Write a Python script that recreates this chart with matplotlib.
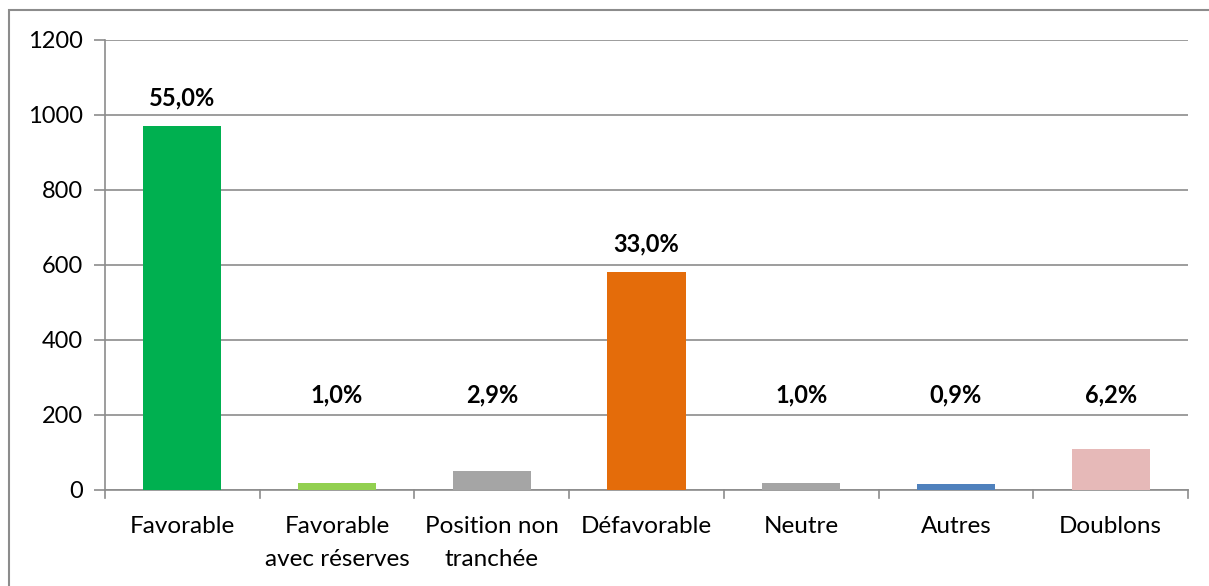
import matplotlib.pyplot as plt
from matplotlib.patches import Rectangle

# Avis exprimés
categories = ["Favorable", "Favorable\navec réserves", "Position non\ntranchée",
              "Défavorable", "Neutre", "Autres", "Doublons"]
valeurs = [970, 18, 51, 582, 18, 16, 110]
couleurs = ["#00B050", "#92D050", "#A5A5A5", "#E46C0A", "#A5A5A5", "#4F81BD", "#E6B9B8"]

total = sum(valeurs)
pourcentages = [v / total * 100 for v in valeurs]

plt.rcParams["font.family"] = ["Lato", "DejaVu Sans"]

fig = plt.figure(figsize=(12.09, 5.86), dpi=100)
ax = fig.add_axes([105 / 1209, 96 / 586, 1083 / 1209, 450.5 / 586])

x = range(len(categories))
ax.bar(x, valeurs, width=0.505, color=couleurs, zorder=3)

# etiquettes en pourcentage (les petites barres ont leur etiquette remontee)
for i, (v, p) in enumerate(zip(valeurs, pourcentages)):
    base = max(v, 180)
    txt = f"{p:.1f}%".replace(".", ",")
    ax.annotate(txt, (i, base), xytext=(0, 20), textcoords="offset points",
                ha="center", va="center", fontsize=17, fontweight="bold", color="black")

ax.set_xlim(-0.5, len(categories) - 0.5)
ax.set_ylim(0, 1200)
ax.set_yticks(range(0, 1201, 200))
ax.yaxis.grid(True, color="#8C8C8C", linewidth=1.2, zorder=0)
ax.set_axisbelow(True)

ax.set_xticks(x)
ax.set_xticklabels(categories, fontsize=17.5, linespacing=1.7)
ax.tick_params(axis="x", length=0, pad=19)
ax.tick_params(axis="y", length=8, width=1.2, color="#8C8C8C", labelsize=17, pad=8)

# petits traits entre les categories
for b in [i - 0.5 for i in range(len(categories) + 1)]:
    ax.plot([b, b], [0, -1200 * 8 / 450.5], color="#8C8C8C", linewidth=1.2,
            clip_on=False, zorder=4)

for s in ["top", "right"]:
    ax.spines[s].set_visible(False)
for s in ["left", "bottom"]:
    ax.spines[s].set_color("#8C8C8C")
    ax.spines[s].set_linewidth(1.2)

# cadre du graphique
fig.patches.append(Rectangle((8.5 / 1209, -0.1), 1.2, (586 - 10) / 586 + 0.1,
                             transform=fig.transFigure, fill=False,
                             edgecolor="#8C8C8C", linewidth=1.5))

plt.savefig("out.png")
